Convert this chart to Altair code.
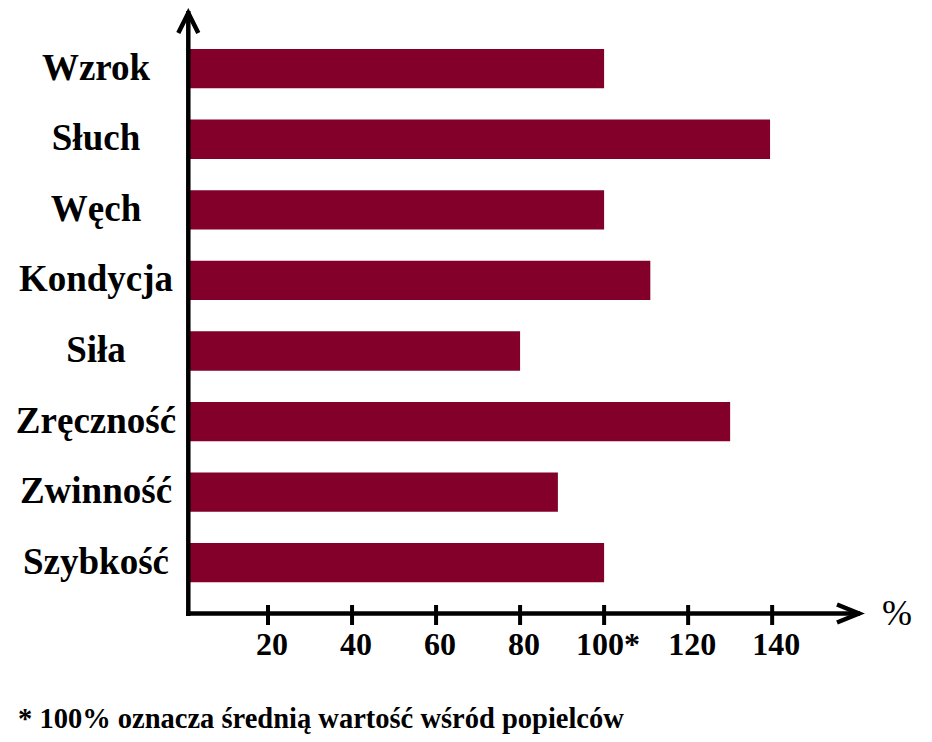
import altair as alt
import pandas as pd

categories = ["Wzrok", "Słuch", "Węch", "Kondycja", "Siła", "Zręczność", "Zwinność", "Szybkość"]
values = [100, 139.5, 100, 111, 80, 130, 89, 100]
tick_values = [20, 40, 60, 80, 100, 120, 140]
tick_labels = ["20", "40", "60", "80", "100*", "120", "140"]
footnote = ["* 100% oznacza średnią wartość wśród popielców"]
unit_label = ["%"]

W, H = 681, 606
X_MAX = 162.1
BAR = "#82002A"
FONT = "Liberation Serif"

bars_df = pd.DataFrame({"cat": categories, "val": values})
ticks_df = pd.DataFrame({"t": tick_values, "lab": tick_labels})
one = pd.DataFrame({"foot": footnote, "unit": unit_label})

xs = alt.Scale(domain=[0, X_MAX], nice=False, zero=True)
ys = alt.Scale(domain=categories, range=[25.4, 590], paddingInner=0.443, paddingOuter=0.2215)

bars = alt.Chart(bars_df).mark_bar(color=BAR).encode(
    x=alt.X("val:Q", scale=xs, axis=None),
    x2=alt.datum(1),
    y=alt.Y("cat:N", scale=ys, axis=None, sort=None),
)

cat_labels = alt.Chart(bars_df).mark_text(
    align="center", baseline="middle", font=FONT, fontSize=37, fontWeight="bold", color="black"
).encode(
    y=alt.Y("cat:N", scale=ys, axis=None, sort=None),
    x=alt.value(-88),
    text="cat:N",
)

ticks = alt.Chart(ticks_df).mark_rule(color="black", strokeWidth=4).encode(
    x=alt.X("t:Q", scale=xs, axis=None),
    y=alt.value(597),
    y2=alt.value(617),
)

tick_text = alt.Chart(ticks_df).mark_text(
    align="center", baseline="middle", dx=4, font=FONT, fontSize=32, fontWeight="bold", color="black"
).encode(
    x=alt.X("t:Q", scale=xs, axis=None),
    y=alt.value(637),
    text="lab:N",
)

v_axis = alt.Chart(one).mark_rule(color="black", strokeWidth=4.5).encode(
    x=alt.value(4.3), y=alt.value(3), y2=alt.value(608)
)
h_axis = alt.Chart(one).mark_rule(color="black", strokeWidth=4.5).encode(
    x=alt.value(2), x2=alt.value(676), y=alt.value(605.5)
)

up_arrow = alt.Chart(one).mark_point(
    shape="M-1,2L0,0L1,2", size=400, filled=False, stroke="black",
    strokeWidth=4.5, strokeJoin="miter", opacity=1, strokeOpacity=1
).encode(x=alt.value(4.3), y=alt.value(5))

right_arrow = alt.Chart(one).mark_point(
    shape="M-2.2,-0.9L0,0L-2.2,0.9", size=400, filled=False, stroke="black",
    strokeWidth=4.5, strokeJoin="miter", opacity=1, strokeOpacity=1
).encode(x=alt.value(675), y=alt.value(605.5))

unit = alt.Chart(one).mark_text(
    align="center", baseline="middle", font=FONT, fontSize=36, color="black"
).encode(x=alt.value(713), y=alt.value(606), text="unit:N")

foot = alt.Chart(one).mark_text(
    align="left", baseline="alphabetic", font=FONT, fontSize=28.5, fontWeight="bold", color="black"
).encode(x=alt.value(-166), y=alt.value(720), text="foot:N")

chart = alt.layer(
    bars, cat_labels, ticks, tick_text, v_axis, h_axis, up_arrow, right_arrow, unit, foot
).properties(
    width=W,
    height=H,
    background="white",
    padding={"left": 176, "top": 0, "right": 50, "bottom": 120},
    autosize=alt.AutoSizeParams(type="none"),
).configure_view(strokeWidth=0, stroke="transparent")

chart.save("out.html", embed_options={"renderer": "svg", "actions": False})
